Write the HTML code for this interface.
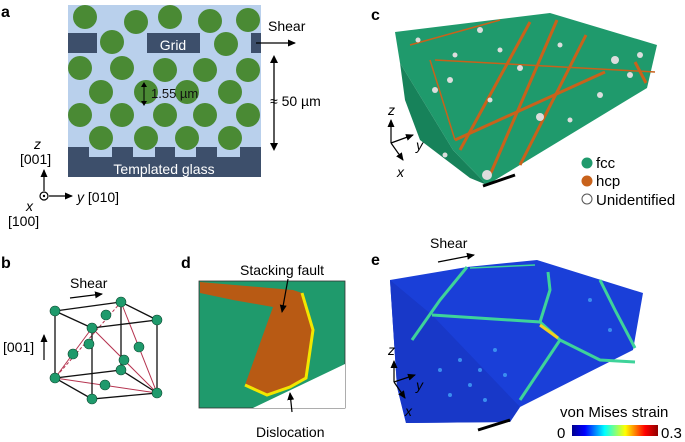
<!DOCTYPE html>
<html><head><meta charset="utf-8"><style>
html,body{margin:0;padding:0;background:#fff;width:685px;height:442px;overflow:hidden}
text{font-family:"Liberation Sans",sans-serif}
</style></head><body>
<svg width="685" height="442" viewBox="0 0 685 442" xmlns="http://www.w3.org/2000/svg">
<defs>
<marker id="ah" markerWidth="8" markerHeight="8" refX="7" refY="4" orient="auto" markerUnits="userSpaceOnUse"><path d="M0,0.5 L8,4 L0,7.5z" fill="#000"/></marker>
<linearGradient id="jet" x1="0" x2="1"><stop offset="0" stop-color="#00008f"/><stop offset="0.15" stop-color="#0000ff"/><stop offset="0.38" stop-color="#00ffff"/><stop offset="0.62" stop-color="#ffff00"/><stop offset="0.85" stop-color="#ff0000"/><stop offset="1" stop-color="#8f0000"/></linearGradient>
</defs>
<!-- panel a -->
<text x="1" y="17" font-size="16" font-weight="bold">a</text>
<rect x="68" y="5" width="193" height="172" fill="#b9d0ec"/>
<g fill="#4a8a34">
<circle cx="85" cy="17" r="12"/><circle cx="136" cy="22" r="12"/><circle cx="170" cy="17" r="12"/><circle cx="210" cy="21" r="12"/><circle cx="248" cy="20" r="12"/>
<circle cx="112" cy="42" r="12"/><circle cx="226" cy="44" r="12"/>
<circle cx="80" cy="68" r="12"/><circle cx="122" cy="68" r="12"/><circle cx="165" cy="70" r="12"/><circle cx="205" cy="70" r="12"/><circle cx="248" cy="70" r="12"/>
<circle cx="101" cy="92" r="12"/><circle cx="146" cy="92" r="12"/><circle cx="187" cy="92" r="12"/><circle cx="230" cy="92" r="12"/>
<circle cx="80" cy="115" r="12"/><circle cx="122" cy="115" r="12"/><circle cx="165" cy="115" r="12"/><circle cx="205" cy="115" r="12"/><circle cx="248" cy="115" r="12"/>
<circle cx="101" cy="138" r="12"/><circle cx="146" cy="138" r="12"/><circle cx="187" cy="138" r="12"/><circle cx="230" cy="138" r="12"/>
</g>
<g fill="#3d4f6b">
<rect x="68" y="33" width="29" height="20"/><rect x="147" y="33" width="53" height="20"/><rect x="251" y="33" width="10" height="20"/>
<rect x="68" y="157" width="193" height="20"/>
<rect x="68" y="147" width="21" height="10"/><rect x="112" y="147" width="21" height="10"/><rect x="155" y="147" width="20" height="10"/><rect x="196" y="147" width="21" height="10"/><rect x="240" y="147" width="21" height="10"/>
</g>
<text x="173" y="50" font-size="14" fill="#fff" text-anchor="middle">Grid</text>
<text x="164" y="174" font-size="14" fill="#fff" text-anchor="middle">Templated glass</text>
<text x="151" y="98" font-size="13" fill="#111">1.55 µm</text>
<line x1="144" y1="86" x2="144" y2="102" stroke="#000" stroke-width="1"/>
<path d="M141,87 L144,82 L147,87z M141,101 L144,106 L147,101z"/>
<text x="268" y="31" font-size="14">Shear</text>
<line x1="256" y1="43" x2="295" y2="43" stroke="#000" stroke-width="1.3" marker-end="url(#ah)"/>
<line x1="274" y1="60" x2="274" y2="146" stroke="#000" stroke-width="1.3"/>
<path d="M270,63 L274,55 L278,63z M270,143 L274,151 L278,143z"/>
<text x="270" y="106" font-size="14">≈ 50 µm</text>
<text x="34" y="149" font-size="14" font-style="italic">z</text>
<text x="20" y="164" font-size="14">[001]</text>
<line x1="44" y1="191" x2="44" y2="170" stroke="#000" stroke-width="1.2" marker-end="url(#ah)"/>
<circle cx="44" cy="196" r="4" fill="none" stroke="#000" stroke-width="1.2"/><circle cx="44" cy="196" r="1.2"/>
<line x1="49" y1="196" x2="72" y2="196" stroke="#000" stroke-width="1.2" marker-end="url(#ah)"/>
<text x="77" y="202" font-size="14"><tspan font-style="italic">y</tspan> [010]</text>
<text x="26" y="211" font-size="14" font-style="italic">x</text>
<text x="8" y="226" font-size="14">[100]</text>
<!-- panel c -->
<text x="371" y="20" font-size="16" font-weight="bold">c</text>
<polygon points="395,32 550,13 657,45 647,88 487,185 453,150 400,63" fill="#1f9a6c"/>
<polygon points="400,63 453,150 487,185 470,178 420,140 405,100" fill="#17825a"/>
<g stroke="#c8621b" stroke-width="3" fill="none">
<line x1="490" y1="175" x2="557" y2="20"/><line x1="460" y1="150" x2="530" y2="22"/>
<line x1="520" y1="165" x2="586" y2="35"/><line x1="455" y1="140" x2="605" y2="72"/>
<line x1="435" y1="60" x2="655" y2="72" stroke-width="1.5"/><line x1="410" y1="45" x2="500" y2="20" stroke-width="1.5"/>
<line x1="430" y1="60" x2="455" y2="140" stroke-width="1.5"/><line x1="635" y1="62" x2="646" y2="83"/>
</g>
<g fill="#ddd"><circle cx="487" cy="175" r="5"/><circle cx="540" cy="117" r="4"/><circle cx="615" cy="60" r="4"/><circle cx="450" cy="80" r="3"/><circle cx="520" cy="68" r="3"/><circle cx="480" cy="30" r="3"/><circle cx="640" cy="55" r="3"/>
<circle cx="455" cy="55" r="2.5"/><circle cx="500" cy="50" r="2.5"/><circle cx="560" cy="45" r="2.5"/><circle cx="600" cy="95" r="3"/><circle cx="570" cy="120" r="2.5"/><circle cx="435" cy="90" r="3"/><circle cx="490" cy="100" r="2.5"/><circle cx="418" cy="40" r="2.5"/><circle cx="445" cy="155" r="2.5"/><circle cx="630" cy="75" r="3"/></g>
<line x1="483" y1="186" x2="515" y2="175" stroke="#000" stroke-width="3"/>
<text x="388" y="115" font-size="14" font-style="italic">z</text>
<line x1="391" y1="143" x2="391" y2="120" stroke="#000" stroke-width="1.2" marker-end="url(#ah)"/>
<line x1="391" y1="143" x2="413" y2="135" stroke="#000" stroke-width="1.2" marker-end="url(#ah)"/>
<line x1="391" y1="143" x2="403" y2="160" stroke="#000" stroke-width="1.2" marker-end="url(#ah)"/>
<text x="416" y="150" font-size="14" font-style="italic">y</text>
<text x="397" y="177" font-size="14" font-style="italic">x</text>
<circle cx="587" cy="163" r="5.5" fill="#1f9a6c"/><text x="596" y="168" font-size="15">fcc</text>
<circle cx="587" cy="181" r="5.5" fill="#c8621b"/><text x="596" y="186" font-size="15">hcp</text>
<circle cx="587" cy="199" r="5" fill="#fff" stroke="#555"/><text x="596" y="205" font-size="15">Unidentified</text>
<!-- panel b -->
<text x="1" y="268" font-size="16" font-weight="bold">b</text>
<text x="70" y="288" font-size="14">Shear</text>
<line x1="70" y1="298" x2="102" y2="294" stroke="#000" stroke-width="1.2" marker-end="url(#ah)"/>
<text x="3" y="352" font-size="14">[001]</text>
<line x1="44" y1="360" x2="44" y2="335" stroke="#000" stroke-width="1.2" marker-end="url(#ah)"/>
<g stroke="#b5334f" stroke-width="1" fill="none">
<line x1="121" y1="302" x2="55" y2="378" stroke-dasharray="3,2"/><line x1="121" y1="302" x2="157" y2="393"/><line x1="55" y1="378" x2="157" y2="393"/>
<line x1="92" y1="328" x2="55" y2="378"/><line x1="92" y1="328" x2="157" y2="393"/>
</g>
<g stroke="#111" stroke-width="1.3" fill="none">
<polygon points="55,311 121,302 121,370 55,378"/><polygon points="92,328 157,320 157,393 92,399"/>
<line x1="55" y1="311" x2="92" y2="328"/><line x1="121" y1="302" x2="157" y2="320"/><line x1="121" y1="370" x2="157" y2="393"/><line x1="55" y1="378" x2="92" y2="399"/>
</g>
<g fill="#1f9a6c" stroke="#0d4a30" stroke-width="0.6">
<circle cx="55" cy="311" r="5"/><circle cx="121" cy="302" r="5"/><circle cx="157" cy="320" r="5"/><circle cx="92" cy="328" r="5"/>
<circle cx="55" cy="378" r="5"/><circle cx="92" cy="399" r="5"/><circle cx="157" cy="393" r="5"/><circle cx="121" cy="370" r="5"/>
<circle cx="106" cy="315" r="5"/><circle cx="89" cy="344" r="5"/><circle cx="73" cy="354" r="5"/><circle cx="139" cy="347" r="5"/><circle cx="124" cy="360" r="5"/><circle cx="105" cy="385" r="5"/>
</g>
<!-- panel d -->
<text x="181" y="268" font-size="16" font-weight="bold">d</text>
<rect x="199" y="281" width="146" height="127" fill="#1f9a6c" stroke="#333" stroke-width="0.8"/>
<polygon points="253,408 345,364 345,408" fill="#fff"/>
<polygon points="200,282 293,290 302,293 312,330 306,377 290,387 267,395 245,385 273,307 233,300 200,293" fill="#b85a14"/>
<polyline points="302,293 313,330 306,378 290,387 267,395 245,385" fill="none" stroke="#f2e600" stroke-width="3"/>
<text x="240" y="275" font-size="14">Stacking fault</text>
<line x1="288" y1="279" x2="282" y2="312" stroke="#000" stroke-width="1.2" marker-end="url(#ah)"/>
<text x="256" y="437" font-size="14">Dislocation</text>
<line x1="292" y1="412" x2="290" y2="393" stroke="#000" stroke-width="1.2" marker-end="url(#ah)"/>
<!-- panel e -->
<text x="371" y="265" font-size="16" font-weight="bold">e</text>
<text x="430" y="248" font-size="14">Shear</text>
<line x1="438" y1="262" x2="474" y2="255" stroke="#000" stroke-width="1.2" marker-end="url(#ah)"/>
<polygon points="390,280 467,267 537,260 643,293 633,350 520,407 510,422 406,423 397,387" fill="#1a3fd8"/>
<polygon points="390,280 432,315 520,407 510,422 406,423 397,387" fill="#1838c8"/>
<g fill="#3a8ef0"><circle cx="460" cy="360" r="2"/><circle cx="480" cy="370" r="2"/><circle cx="470" cy="385" r="2"/><circle cx="495" cy="350" r="2"/><circle cx="450" cy="395" r="2"/><circle cx="505" cy="375" r="2"/><circle cx="440" cy="370" r="2"/><circle cx="485" cy="400" r="2"/><circle cx="590" cy="300" r="2"/><circle cx="610" cy="330" r="2"/></g>
<g stroke="#3ed39a" stroke-width="3" fill="none">
<polyline points="467,267 440,300 412,340"/><polyline points="432,315 540,322 560,340 600,360 635,362"/>
<polyline points="540,322 550,290 548,272"/><polyline points="560,340 520,400"/><polyline points="600,280 615,310 635,348"/>
<line x1="470" y1="268" x2="535" y2="265" stroke-width="1.5"/>
</g>
<line x1="540" y1="325" x2="558" y2="338" stroke="#f0d020" stroke-width="3"/>
<line x1="478" y1="430" x2="510" y2="420" stroke="#000" stroke-width="3"/>
<text x="388" y="355" font-size="14" font-style="italic">z</text>
<line x1="394" y1="382" x2="394" y2="361" stroke="#000" stroke-width="1.2" marker-end="url(#ah)"/>
<line x1="394" y1="382" x2="415" y2="375" stroke="#000" stroke-width="1.2" marker-end="url(#ah)"/>
<line x1="394" y1="382" x2="405" y2="398" stroke="#000" stroke-width="1.2" marker-end="url(#ah)"/>
<text x="416" y="390" font-size="14" font-style="italic">y</text>
<text x="405" y="416" font-size="14" font-style="italic">x</text>
<text x="560" y="417" font-size="15">von Mises strain</text>
<rect x="572" y="425" width="86" height="11" fill="url(#jet)"/>
<text x="557" y="438" font-size="15">0</text>
<text x="661" y="438" font-size="15">0.3</text>
</svg>
</body></html>
